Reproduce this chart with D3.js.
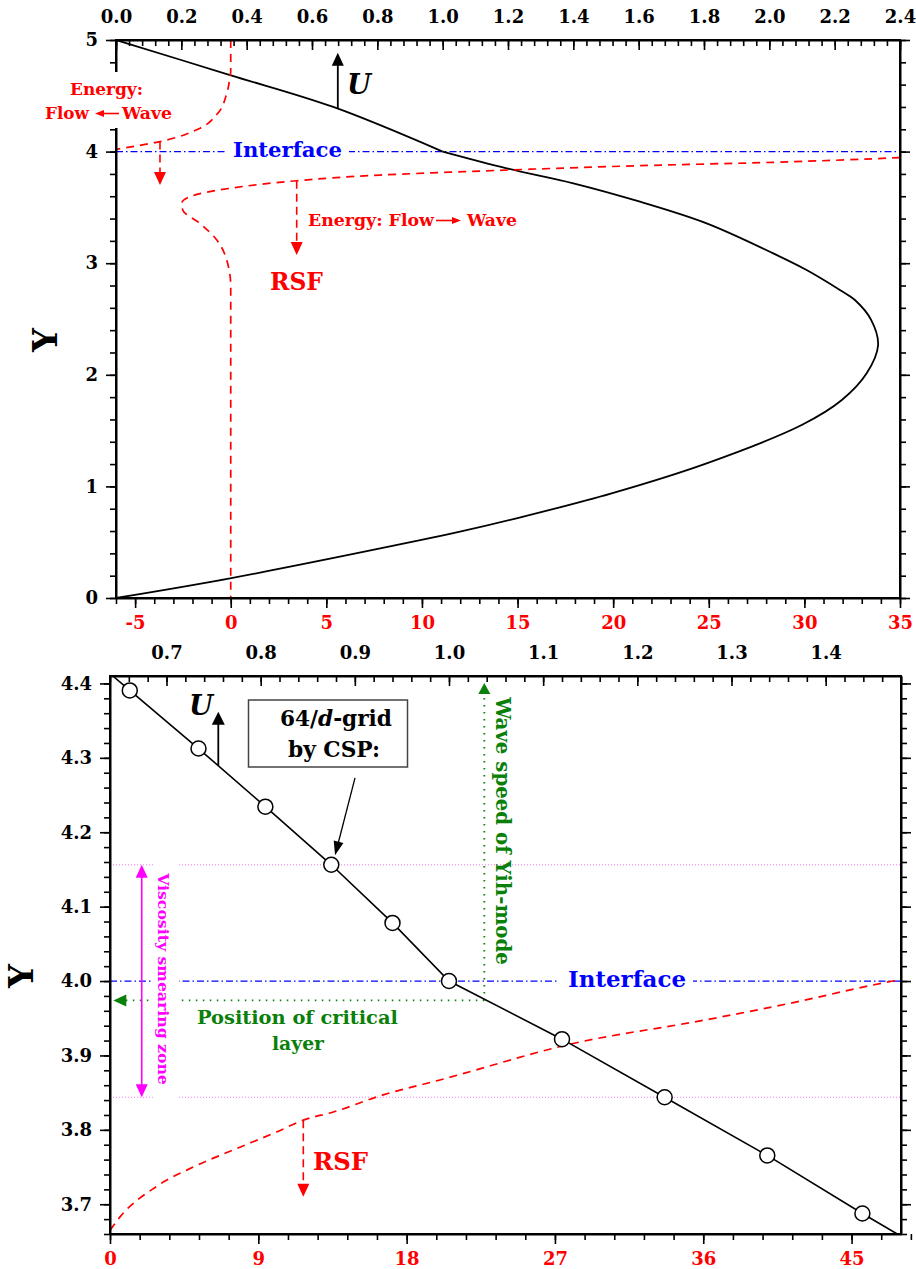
<!DOCTYPE html>
<html>
<head>
<meta charset="utf-8">
<script src="https://cdn.jsdelivr.net/npm/d3@7"></script>
<style>
  body { margin: 0; background: #fff; }
  svg { display: block; }
  text { font-family: 'DejaVu Serif', serif; font-weight: bold; }
</style>
</head>
<body>
<div id="chart"></div>
<script>
// ---------- top panel ----------
const topTicksU = [0, 0.2, 0.4, 0.6, 0.8, 1.0, 1.2, 1.4, 1.6, 1.8, 2.0, 2.2, 2.4];
const topTicksRsf = [-5, 0, 5, 10, 15, 20, 25, 30, 35];
const topTicksY = [0, 1, 2, 3, 4, 5];

// velocity profile U (top axis) against Y: upper layer, lower layer
const profUpY = [5, 4.686, 4.40, 4.0];
const profUpU = [0, 0.349, 0.665, 1.0];
const profLoY = [4.0, 3.85, 3.716, 3.551, 3.357, 3.088, 2.939, 2.76, 2.67, 2.49, 2.267, 2.013, 1.774, 1.55, 1.207, 0.938, 0.714, 0.594, 0.52, 0.176, 0];
const profLoU = [1.0, 1.196, 1.40, 1.604, 1.808, 2.012, 2.114, 2.216, 2.262, 2.312, 2.333, 2.298, 2.222, 2.099, 1.808, 1.517, 1.226, 1.053, 0.935, 0.349, 0];

// RSF (bottom axis), upper layer and lower layer
const rsfUpY = [5, 4.72, 4.67, 4.52, 4.33, 4.21, 4.09, 4.02];
const rsfUpR = [0, 0, -0.04, -0.21, -0.74, -1.6, -3.7, -6];
const rsfLoY = [3.946, 3.904, 3.874, 3.841, 3.820, 3.790, 3.739, 3.671, 3.596, 3.537, 3.477, 3.357, 3.208, 3.029, 2.79, 2.5, 0];
const rsfLoR = [35, 28.36, 21.4, 15.48, 12.16, 7.81, 3.45, -0.04, -2.13, -2.56, -2.51, -1.61, -0.73, -0.21, 0, 0, 0];

// ---------- bottom panel (zoom near the interface) ----------
const botTicksU = [0.7, 0.8, 0.9, 1.0, 1.1, 1.2, 1.3, 1.4];
const botTicksRsf = [0, 9, 18, 27, 36, 45];
const botTicksY = [3.7, 3.8, 3.9, 4.0, 4.1, 4.2, 4.3, 4.4];

// 64/d-grid points by CSP
const gridY = [4.390625, 4.3125, 4.234375, 4.15625, 4.078125, 4.0, 3.921875, 3.84375, 3.765625, 3.6875];
const gridU = [0.661, 0.734, 0.805, 0.875, 0.940, 1.000, 1.120, 1.229, 1.338, 1.439];
const lineY = [4.41, ...gridY, 3.66];
const lineU = [0.643, ...gridU, 1.476];

const rsf2R = [0, 0.61, 2.83, 5.05, 7.48, 10.1, 11.73, 13.55, 16.58, 20.02, 28.1, 36.2, 42.3, 45.3, 47.5, 49];
const rsf2Y = [3.665, 3.683, 3.724, 3.75, 3.773, 3.797, 3.813, 3.824, 3.847, 3.867, 3.916, 3.948, 3.975, 3.99, 4.0, 4.006];

const interfaceY = 4.0;
const smearY = [4.15625, 3.84375];
const critY = 3.974, waveSpeed = 1.0375;

const W = 916, H = 1269;
const svg = d3.select('#chart').append('svg').attr('width', W).attr('height', H);
svg.append('rect').attr('width', W).attr('height', H).attr('fill', '#fff');

const RED = '#ff0000', BLUE = '#0000ff', GREEN = '#0a7f0a', MAG = '#ff00ff';

function fit(t, w) {
  const L = t.node().getComputedTextLength();
  t.attr('font-size', parseFloat(t.attr('font-size')) * w / L);
  return t;
}
function label(g, str, x, y, w, color, opts = {}) {
  const t = g.append('text').attr('x', x).attr('y', y).attr('fill', color)
    .attr('font-size', 20).attr('text-anchor', opts.anchor || 'start').text(str);
  if (opts.italic) t.attr('font-style', 'italic');
  if (opts.weight) t.attr('font-weight', opts.weight);
  if (opts.rotate) t.attr('transform', `rotate(${opts.rotate},${x},${y})`);
  return fit(t, w);
}
function arrow(g, p1, p2, o) {
  const [x1, y1] = p1, [x2, y2] = p2;
  const dx = x2 - x1, dy = y2 - y1, L = Math.hypot(dx, dy), ux = dx / L, uy = dy / L;
  const hw = o.w || 12, hh = o.h || 13;
  const bx = x2 - ux * hh, by = y2 - uy * hh;
  g.append('line').attr('x1', x1).attr('y1', y1).attr('x2', bx + ux).attr('y2', by + uy)
    .attr('stroke', o.color).attr('stroke-width', o.width || 1.5)
    .attr('stroke-dasharray', o.dash || null);
  g.append('path')
    .attr('d', `M${x2},${y2}L${bx - uy * hw / 2},${by + ux * hw / 2}L${bx + uy * hw / 2},${by - ux * hw / 2}Z`)
    .attr('fill', o.color);
}

function frameAxes(g, box, xTop, xBot, y, cfg) {
  const {left, right, top, bottom} = box;
  const style = (sel, col) => {
    sel.select('.domain').attr('stroke', '#000').attr('stroke-width', 2);
    sel.selectAll('.tick line').attr('stroke', '#000').attr('stroke-width', 1.6);
    sel.selectAll('.tick text').attr('fill', col || '#000').attr('font-size', 18)
      .attr('font-family', "'DejaVu Serif', serif").attr('font-weight', 'bold');
  };
  const minor = (sel) => sel.select('.domain').remove();

  // top axis (ticks inward)
  g.append('g').attr('transform', `translate(0,${top})`)
    .call(d3.axisTop(xTop).tickValues(cfg.minTop).tickSizeInner(-6).tickSizeOuter(0).tickFormat(''))
    .call(s => { style(s); minor(s); });
  g.append('g').attr('transform', `translate(0,${top})`)
    .call(d3.axisTop(xTop).tickValues(cfg.top).tickSizeInner(-10).tickSizeOuter(0).tickPadding(17).tickFormat(d3.format('.1f')))
    .call(s => style(s));

  // bottom axis (red labels)
  g.append('g').attr('transform', `translate(0,${bottom})`)
    .call(d3.axisBottom(xBot).tickValues(cfg.minBot).tickSize(6).tickFormat(''))
    .call(s => { style(s); minor(s); });
  g.append('g').attr('transform', `translate(0,${bottom})`)
    .call(d3.axisBottom(xBot).tickValues(cfg.bot).tickSizeInner(10).tickSizeOuter(0).tickPadding(8).tickFormat(d => String(d)))
    .call(s => style(s, RED));

  // left axis
  g.append('g').attr('transform', `translate(${left},0)`)
    .call(d3.axisLeft(y).tickValues(cfg.minY).tickSize(6).tickFormat(''))
    .call(s => { style(s); minor(s); });
  g.append('g').attr('transform', `translate(${left},0)`)
    .call(d3.axisLeft(y).tickValues(cfg.y).tickSizeInner(10).tickSizeOuter(0).tickPadding(8).tickFormat(cfg.yFmt))
    .call(s => style(s));

  // right axis, no labels
  g.append('g').attr('transform', `translate(${right},0)`)
    .call(d3.axisRight(y).tickValues(cfg.minY).tickSize(6).tickFormat(''))
    .call(s => { style(s); minor(s); });
  g.append('g').attr('transform', `translate(${right},0)`)
    .call(d3.axisRight(y).tickValues(cfg.y).tickSizeInner(10).tickSizeOuter(0).tickFormat(''))
    .call(s => style(s));

  g.append('rect').attr('x', left).attr('y', top).attr('width', right - left).attr('height', bottom - top)
    .attr('fill', 'none').attr('stroke', '#000').attr('stroke-width', 2);
}

function clip(id, box) {
  svg.append('clipPath').attr('id', id).append('rect')
    .attr('x', box.left).attr('y', box.top).attr('width', box.right - box.left).attr('height', box.bottom - box.top);
}
const rng = (a, b, s) => d3.range(0, Math.round((b - a) / s) + 1).map(i => +(a + i * s).toFixed(4));

// ================= TOP PANEL =================
const b1 = {left: 116, right: 900, top: 40, bottom: 598};
const xU1 = d3.scaleLinear([0, 2.4], [b1.left, b1.right]);
const xR1 = d3.scaleLinear([-6, 35], [b1.left, b1.right]);
const y1 = d3.scaleLinear([0, 5], [b1.bottom, b1.top]);
clip('c1', b1);
const g1 = svg.append('g');
const p1 = g1.append('g').attr('clip-path', 'url(#c1)');

// interface line
p1.append('line').attr('x1', b1.left).attr('x2', b1.right).attr('y1', y1(interfaceY)).attr('y2', y1(interfaceY))
  .attr('stroke', BLUE).attr('stroke-width', 1.2).attr('stroke-dasharray', '7,3,1.5,3');

[[profUpU, profUpY], [profLoU, profLoY]].forEach(([uu, yy]) => {
  p1.append('path').datum(yy.map((v, i) => [uu[i], v]))
    .attr('d', d3.line().x(d => xU1(d[0])).y(d => y1(d[1])).curve(d3.curveCatmullRom.alpha(0.5)))
    .attr('fill', 'none').attr('stroke', '#000').attr('stroke-width', 1.8);
});

[[rsfUpR, rsfUpY], [rsfLoR, rsfLoY]].forEach(([rr, yy]) => {
  p1.append('path').datum(yy.map((v, i) => [rr[i], v]))
    .attr('d', d3.line().x(d => xR1(d[0])).y(d => y1(d[1])).curve(d3.curveMonotoneY))
    .attr('fill', 'none').attr('stroke', RED).attr('stroke-width', 1.7).attr('stroke-dasharray', '8,6');
});

frameAxes(g1, b1, xU1, xR1, y1, {
  top: topTicksU, minTop: rng(0, 2.4, 0.04),
  bot: topTicksRsf, minBot: rng(-6, 35, 1),
  y: topTicksY, minY: rng(0, 5, 0.2), yFmt: d3.format('d')
});

// annotations
const a1 = svg.append('g');
arrow(a1, [xU1(0.679), y1(4.39)], [xU1(0.679), y1(4.885)], {color: '#000', width: 1.8, w: 12, h: 13});
label(a1, 'U', 347, 94, 24, '#000', {italic: true});

a1.append('rect').attr('x', 40).attr('y', 72).attr('width', 136).attr('height', 56).attr('fill', '#fff');
label(a1, 'Energy:', 70, 95, 73, RED);
label(a1, 'Flow', 45, 119, 44, RED);
arrow(a1, [119, 113.5], [95, 113.5], {color: RED, width: 1.6, w: 7, h: 9});
label(a1, 'Wave', 122, 119, 50, RED);

arrow(a1, [xR1(-3.7), y1(4.09)], [xR1(-3.7), y1(3.70)], {color: RED, width: 1.6, dash: '8,5', w: 12, h: 13});

a1.append('rect').attr('x', 226).attr('y', 142).attr('width', 123).attr('height', 19).attr('fill', '#fff');
label(a1, 'Interface', 233, 157, 109, BLUE);

arrow(a1, [xR1(3.45), y1(3.739)], [xR1(3.45), y1(3.073)], {color: RED, width: 1.6, dash: '8,5', w: 12, h: 13});
label(a1, 'Energy: Flow', 308, 226, 126, RED);
arrow(a1, [436, 220.5], [461, 220.5], {color: RED, width: 1.6, w: 7, h: 9});
label(a1, 'Wave', 467, 226, 50, RED);
label(a1, 'RSF', 270, 290, 53, RED);

label(a1, 'Y', 57, 340, 24, '#000', {anchor: 'middle', rotate: -90});

// ================= BOTTOM PANEL =================
const b2 = {left: 110, right: 901, top: 676, bottom: 1234};
const xU2 = d3.scaleLinear([0.64, 1.48], [b2.left, b2.right]);
const xR2 = d3.scaleLinear([0, 48], [b2.left, b2.right]);
const y2 = d3.scaleLinear([3.66, 4.41], [b2.bottom, b2.top]);
clip('c2', b2);
const g2 = svg.append('g');
const p2 = g2.append('g').attr('clip-path', 'url(#c2)');

smearY.forEach(v => {
  p2.append('line').attr('x1', b2.left).attr('x2', b2.right).attr('y1', y2(v)).attr('y2', y2(v))
    .attr('stroke', '#ff77ff').attr('stroke-width', 1).attr('stroke-dasharray', '1,2');
});
p2.append('line').attr('x1', b2.left).attr('x2', b2.right).attr('y1', y2(interfaceY)).attr('y2', y2(interfaceY))
  .attr('stroke', BLUE).attr('stroke-width', 1.2).attr('stroke-dasharray', '7,3,1.5,3');

// critical layer / wave speed
p2.append('line').attr('x1', xU2(waveSpeed)).attr('x2', xU2(0.6435 + 0.012)).attr('y1', y2(critY)).attr('y2', y2(critY))
  .attr('stroke', GREEN).attr('stroke-width', 1.8).attr('stroke-dasharray', '1.5,5.5');
p2.append('line').attr('x1', xU2(waveSpeed)).attr('x2', xU2(waveSpeed)).attr('y1', y2(critY)).attr('y2', y2(4.39))
  .attr('stroke', GREEN).attr('stroke-width', 1.8).attr('stroke-dasharray', '1.5,5.5');

p2.append('path').datum(rsf2Y.map((v, i) => [rsf2R[i], v]))
  .attr('d', d3.line().x(d => xR2(d[0])).y(d => y2(d[1])).curve(d3.curveMonotoneX))
  .attr('fill', 'none').attr('stroke', RED).attr('stroke-width', 1.7).attr('stroke-dasharray', '8,6');

p2.append('path').datum(lineY.map((v, i) => [lineU[i], v]))
  .attr('d', d3.line().x(d => xU2(d[0])).y(d => y2(d[1])))
  .attr('fill', 'none').attr('stroke', '#000').attr('stroke-width', 1.6);

p2.selectAll('circle.grid').data(gridY).join('circle').attr('class', 'grid')
  .attr('cx', (d, i) => xU2(gridU[i])).attr('cy', d => y2(d)).attr('r', 7.5)
  .attr('fill', '#fff').attr('stroke', '#000').attr('stroke-width', 1.5);

frameAxes(g2, b2, xU2, xR2, y2, {
  top: botTicksU, minTop: rng(0.64, 1.48, 0.02),
  bot: botTicksRsf, minBot: rng(0, 48, 1.8),
  y: botTicksY, minY: rng(3.66, 4.40, 0.02), yFmt: d3.format('.1f')
});

const a2 = svg.append('g');
// U arrow
arrow(a2, [xU2(0.755), y2(4.289)], [xU2(0.755), y2(4.362)], {color: '#000', width: 1.8, w: 13, h: 13});
label(a2, 'U', 189, 715, 24, '#000', {italic: true});

// callout box
a2.append('rect').attr('x', 248.5).attr('y', 700).attr('width', 159).attr('height', 67)
  .attr('fill', '#fff').attr('stroke', '#444').attr('stroke-width', 1.5);
const grid = a2.append('text').attr('x', 280).attr('y', 726).attr('font-size', 20).attr('fill', '#000');
grid.append('tspan').text('64/');
grid.append('tspan').attr('font-style', 'italic').text('d');
grid.append('tspan').text('-grid');
fit(grid, 112);
label(a2, 'by CSP:', 288, 757, 92, '#000');
arrow(a2, [xU2(0.9002), y2(4.273)], [xU2(0.879), y2(4.169)], {color: '#000', width: 1.3, w: 10, h: 14});

// viscosity smearing zone
a2.append('rect').attr('x', 153).attr('y', 860).attr('width', 26).attr('height', 240).attr('fill', '#fff');
arrow(a2, [xU2(0.6737), y2(4.0)], [xU2(0.6737), y2(smearY[0])], {color: MAG, width: 1.6, w: 12, h: 13});
arrow(a2, [xU2(0.6737), y2(4.0)], [xU2(0.6737), y2(smearY[1])], {color: MAG, width: 1.6, w: 12, h: 13});
label(a2, 'Viscosity smearing zone', 158, 979, 212, MAG, {anchor: 'middle', rotate: 90, weight: 600});

// wave speed arrow
arrow(a2, [xU2(waveSpeed), y2(4.30)], [xU2(waveSpeed), y2(4.4006)], {color: GREEN, width: 0.01, w: 12, h: 11});
label(a2, 'Wave speed of Yih-mode', 496, 831, 268, GREEN, {anchor: 'middle', rotate: 90});
arrow(a2, [xU2(0.70), y2(critY)], [xU2(0.6435), y2(critY)], {color: GREEN, width: 0.01, w: 12, h: 13});
label(a2, 'Position of critical', 197, 1024, 201, GREEN);
label(a2, 'layer', 298, 1050, 52, GREEN, {anchor: 'middle'});

a2.append('rect').attr('x', 557).attr('y', 968).attr('width', 136).attr('height', 26).attr('fill', '#fff');
label(a2, 'Interface', 568, 987, 118, BLUE);

arrow(a2, [xR2(11.73), y2(3.813)], [xR2(11.73), y2(3.710)], {color: RED, width: 1.6, dash: '8,5', w: 12, h: 13});
label(a2, 'RSF', 313, 1170, 55, RED);

label(a2, 'Y', 33, 976, 24, '#000', {anchor: 'middle', rotate: -90});
</script>
</body>
</html>
